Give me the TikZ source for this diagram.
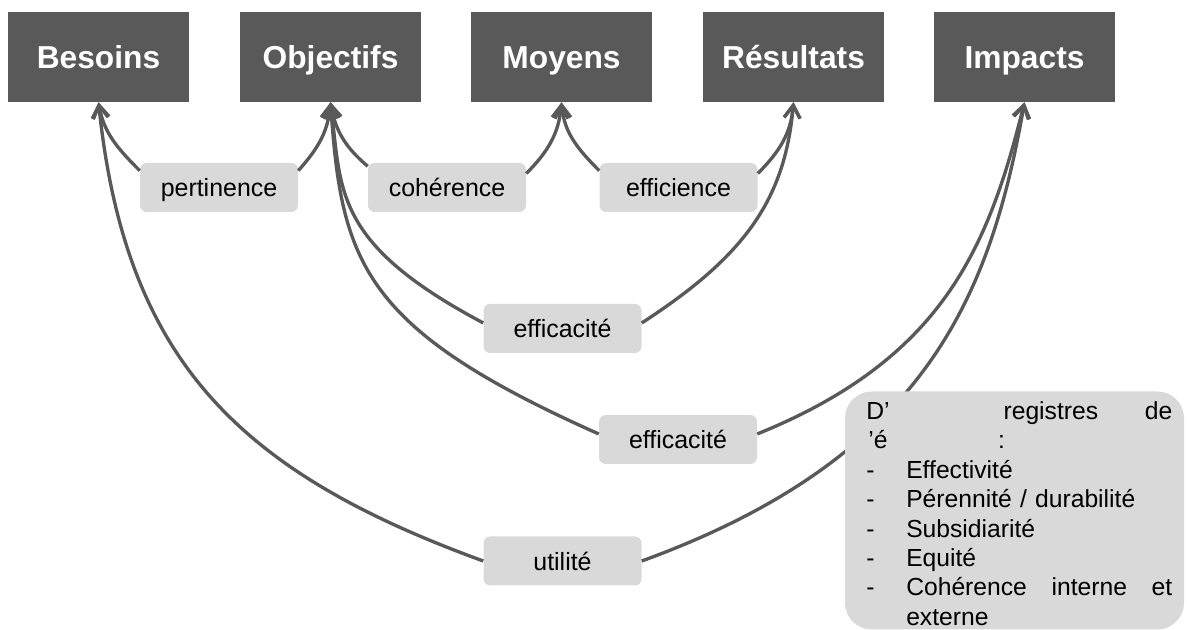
\documentclass[tikz,border=0pt]{standalone}
\usepackage{fontspec}
\setmainfont{Liberation Sans}
\usetikzlibrary{arrows.meta}
\definecolor{hdr}{HTML}{595959}
\definecolor{lab}{HTML}{D9D9D9}
\begin{document}
\begin{tikzpicture}[x=0.75pt,y=0.75pt,
 hdrbox/.style={fill=hdr, text=white, font=\fontsize{23.8}{28}\selectfont\bfseries, minimum width=135.75pt, minimum height=67.5pt, inner sep=0pt, text height=18pt, text depth=0pt},
 labbox/.style={fill=lab, rounded corners=5pt, font=\fontsize{18.7}{22}\selectfont, minimum width=118.5pt, minimum height=36.75pt, inner sep=0pt, text height=14.2pt, text depth=0pt},
 link/.style={draw=hdr, line width=2.5pt},
 tip/.style={-{Straight Barb[length=9.5pt,width=12pt]}}]
\useasboundingbox (0,0) rectangle (1187,630);
% headers
\node[hdrbox] (besoins) at (98.5,573) {Besoins};
\node[hdrbox] (objectifs) at (330.5,573) {Objectifs};
\node[hdrbox] (moyens) at (561.5,573) {Moyens};
\node[hdrbox] (resultats) at (793.5,573) {Résultats};
\node[hdrbox] (impacts) at (1024.5,573) {Impacts};
% labels
\node[labbox] (pert) at (219,442.5) {pertinence};
\node[labbox] (coh) at (447,442.5) {cohérence};
\node[labbox] (effi) at (678.5,442.5) {efficience};
\node[labbox] (eff1) at (562.5,301.5) {efficacité};
\node[labbox] (eff2) at (678,190.5) {efficacité};
\node[labbox] (util) at (562.5,69) {utilité};
% links
\draw[link,tip] (pert.168) to[out=135,in=-80] (besoins.south);
\draw[link,tip] (pert.12) to[out=48,in=-95] (objectifs.south);
\draw[link,tip] (coh.165) to[out=140,in=-80] (objectifs.south);
\draw[link,tip] (coh.10) to[out=45,in=-95] (moyens.south);
\draw[link,tip] (effi.168) to[out=135,in=-85] (moyens.south);
\draw[link,tip] (effi.10) to[out=45,in=-95] (resultats.south);
\draw[link,tip] (eff1.176) .. controls +(152:170) and +(-83:90) .. (objectifs.south);
\draw[link,tip] (eff1.4) .. controls +(33:120) and +(-95:100) .. (resultats.south);
\draw[link,tip] (eff2.176) .. controls +(156:260) and +(-86:160) .. (objectifs.south);
\draw[link,tip] (eff2.4) .. controls +(22:200) and +(-104:150) .. (impacts.south);
\draw[link,tip] (util.west) .. controls +(160:260) and +(-84:260) .. (besoins.south);
\draw[link,tip] (util.east) .. controls +(20:300) and +(-100:200) .. (impacts.south);
% registers box
\node[fill=lab, rounded corners=20pt, minimum width=254.25pt, minimum height=178.5pt, inner sep=0pt] (reg) at (1014.5,119.5) {};
\node[anchor=north west, inner sep=0pt, text width=229.5pt, align=left, font=\fontsize{18.5}{22.1}\selectfont] (regtxt) at (866,229) {D’\hspace{85.5pt}registres\hfill de\\
\hspace*{1.5pt}’é\hspace{83pt}:\\
\makebox[30pt][l]{-}Effectivité\\
\makebox[30pt][l]{-}Pérennité / durabilité\\
\makebox[30pt][l]{-}Subsidiarité\\
\makebox[30pt][l]{-}Equité\\
\makebox[30pt][l]{-}Cohérence\hfill interne\hfill et\\
\hspace*{30pt}externe};
\end{tikzpicture}
\end{document}
